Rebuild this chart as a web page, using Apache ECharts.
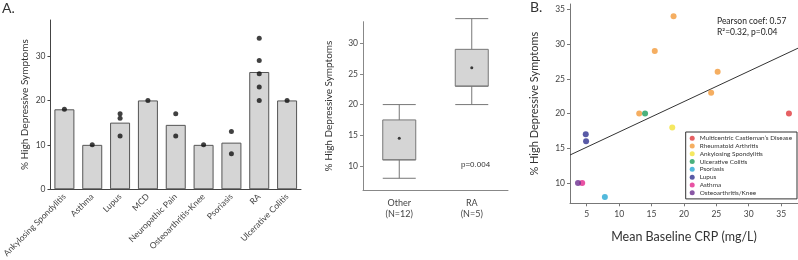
<!DOCTYPE html>
<html>
<head>
<meta charset="utf-8">
<script src="https://cdn.jsdelivr.net/npm/echarts@6/dist/echarts.min.js"></script>
<style>
html, body { margin: 0; padding: 0; background: #fff; }
#chart { width: 798px; height: 260px; }
</style>
</head>
<body>
<div id="chart"></div>
<script>
// panel A - bars
var diseases = ['Ankylosing Spondylitis', 'Asthma', 'Lupus', 'MCD', 'Neuropathic Pain', 'Osteoarthritis-Knee', 'Psoriasis', 'RA', 'Ulcerative Colitis'];
var barMeans = [18, 10, 15, 20, 14.5, 10, 10.5, 26.4, 20];
var trialDots = [[18], [10], [17, 16, 12], [20], [17, 12], [10], [13, 8], [34, 29, 26, 23, 20], [20]];

// panel A - box plot
var groups = ['Other\n(N=12)', 'RA\n(N=5)'];
var boxOther = [8, 11, 14.5, 17.5, 20];   // min, q1, mean, q3, max
var boxRA = [20, 23, 26, 29, 34];

// panel B - scatter (CRP, % high depressive)
var groupNames = ['Multicentric Castleman’s Disease', 'Rheumatoid Arthritis', 'Ankylosing Spondylitis', 'Ulcerative Colitis', 'Psoriasis', 'Lupus', 'Asthma', 'Osteoarthritis/Knee'];
var groupColors = ['#e0383c', '#f39a3a', '#f2e23a', '#1e9e5c', '#27a7d3', '#2f3190', '#e2278c', '#6b2d8f'];
var mcdPts = [[36.2, 20]];
var raPts = [[18.4, 34], [15.5, 29], [25.2, 26], [24.2, 23], [13.1, 20]];
var asPts = [[18.2, 18]];
var ucPts = [[14.0, 20]];
var psoPts = [[7.8, 8]];
var lupusPts = [[4.85, 17], [4.9, 16]];
var asthmaPts = [[4.3, 10]];
var oaPts = [[3.65, 10]];
var fitLine = [[2.42, 14.03], [37.6, 29.4]];

var chart = echarts.init(document.getElementById('chart'));
var font = 'Lato';

var dotData = [];
trialDots.forEach(function (vals, i) {
    vals.forEach(function (v) { dotData.push([i, v]); });
});

var scatterSets = [mcdPts, raPts, asPts, ucPts, psoPts, lupusPts, asthmaPts, oaPts];
var scatterSeries = scatterSets.map(function (pts, i) {
    return {
        name: groupNames[i],
        type: 'scatter',
        xAxisIndex: 2,
        yAxisIndex: 2,
        symbolSize: 6,
        itemStyle: { color: groupColors[i] },
        data: pts,
        z: 3
    };
});

var option = {
    animation: false,
    textStyle: { fontFamily: font },
    graphic: [
        { type: 'text', left: 2, top: 1, style: { text: 'A.', font: '14px Lato', fill: '#333' } },
        { type: 'text', left: 530, top: 0, style: { text: 'B.', font: '14px Lato', fill: '#333' } },
        { type: 'text', left: 461, top: 161, style: { text: 'p=0.004', font: '8px "Liberation Sans"', fill: '#333' } },
        { type: 'text', left: 717, top: 17, style: { text: 'Pearson coef: 0.57', font: '8.5px Lato', fill: '#222' } },
        { type: 'text', left: 717, top: 28, style: { text: 'R²=0.32, p=0.04', font: '8.5px Lato', fill: '#222' } }
    ],
    legend: {
        data: groupNames,
        orient: 'vertical',
        right: 1,
        top: 132,
        padding: [3, 5, 3, 4],
        borderColor: '#333',
        borderWidth: 1,
        borderRadius: 0,
        icon: 'circle',
        itemWidth: 5,
        itemHeight: 5,
        itemGap: 1.5,
        textStyle: { fontSize: 6.4, lineHeight: 6.3, color: '#333', fontFamily: font }
    },
    grid: [
        { left: 45, width: 256, top: 20, bottom: 70 },
        { left: 363, width: 145, top: 21.7, bottom: 69.7 },
        { left: 570, right: 0, top: 4, bottom: 56.7 }
    ],
    xAxis: [
        {
            gridIndex: 0,
            type: 'category',
            data: diseases,
            axisLine: { lineStyle: { color: '#444' } },
            axisTick: { show: false },
            axisLabel: { rotate: 45, fontSize: 8.5, color: '#444', margin: 6, interval: 0 }
        },
        {
            gridIndex: 1,
            type: 'category',
            data: groups,
            axisLine: { lineStyle: { color: '#888' } },
            axisTick: { show: false },
            axisLabel: { fontSize: 9, color: '#444', margin: 7, lineHeight: 11 }
        },
        {
            gridIndex: 2,
            type: 'value',
            min: 2.42,
            max: 37.6,
            splitLine: { show: false },
            axisLine: { lineStyle: { color: '#777' } },
            axisTick: { show: true, length: 3, customValues: [5, 10, 15, 20, 25, 30, 35] },
            axisLabel: { fontSize: 8.5, color: '#444', margin: 6, customValues: [5, 10, 15, 20, 25, 30, 35] },
            name: 'Mean Baseline CRP (mg/L)',
            nameLocation: 'middle',
            nameGap: 27,
            nameTextStyle: { fontSize: 12.5, color: '#333' }
        }
    ],
    yAxis: [
        {
            gridIndex: 0,
            type: 'value',
            min: 0,
            max: 38.1,
            splitLine: { show: false },
            axisLine: { show: true, lineStyle: { color: '#444' } },
            axisTick: { show: true, length: 3, customValues: [0, 10, 20, 30] },
            axisLabel: { fontSize: 8.5, color: '#444', margin: 5, customValues: [0, 10, 20, 30] },
            name: '% High Depressive Symptoms',
            nameLocation: 'middle',
            nameGap: 21,
            nameTextStyle: { fontSize: 10, color: '#333' }
        },
        {
            gridIndex: 1,
            type: 'value',
            min: 6.04,
            max: 33.5,
            splitLine: { show: false },
            axisLine: { show: true, lineStyle: { color: '#888' } },
            axisTick: { show: true, length: 3, customValues: [10, 15, 20, 25, 30] },
            axisLabel: { fontSize: 8.5, color: '#444', margin: 5, customValues: [10, 15, 20, 25, 30] },
            name: '% High Depressive Symptoms',
            nameLocation: 'middle',
            nameGap: 29,
            nameTextStyle: { fontSize: 10, color: '#333' }
        },
        {
            gridIndex: 2,
            type: 'value',
            min: 7.08,
            max: 35.76,
            splitLine: { show: false },
            axisLine: { show: true, lineStyle: { color: '#777' } },
            axisTick: { show: true, length: 3, customValues: [10, 15, 20, 25, 30, 35] },
            axisLabel: { fontSize: 8.5, color: '#444', margin: 5, customValues: [10, 15, 20, 25, 30, 35] },
            name: '% High Depressive Symptoms',
            nameLocation: 'middle',
            nameGap: 30,
            nameTextStyle: { fontSize: 11, color: '#333' }
        }
    ],
    series: [
        {
            type: 'bar',
            xAxisIndex: 0,
            yAxisIndex: 0,
            barWidth: 20,
            itemStyle: { color: '#d5d5d5', borderColor: '#555', borderWidth: 1 },
            data: barMeans
        },
        {
            type: 'scatter',
            xAxisIndex: 0,
            yAxisIndex: 0,
            symbolSize: 5,
            itemStyle: { color: '#111' },
            data: dotData,
            z: 3
        },
        {
            type: 'boxplot',
            xAxisIndex: 1,
            yAxisIndex: 1,
            boxWidth: [33, 33],
            itemStyle: { color: '#d5d5d5', borderColor: '#777', borderWidth: 1 },
            // median drawn on q1 so no separate median line shows
            data: [
                [boxOther[0], boxOther[1], boxOther[1], boxOther[3], boxOther[4]],
                [boxRA[0], boxRA[1], boxRA[1], boxRA[3], boxRA[4]]
            ]
        },
        {
            type: 'scatter',
            xAxisIndex: 1,
            yAxisIndex: 1,
            symbolSize: 3,
            itemStyle: { color: '#111' },
            data: [[0, boxOther[2]], [1, boxRA[2]]],
            z: 3
        },
        {
            type: 'line',
            xAxisIndex: 2,
            yAxisIndex: 2,
            showSymbol: false,
            lineStyle: { color: '#333', width: 1 },
            data: fitLine,
            z: 2
        }
    ].concat(scatterSeries)
};

chart.setOption(option);
</script>
</body>
</html>
